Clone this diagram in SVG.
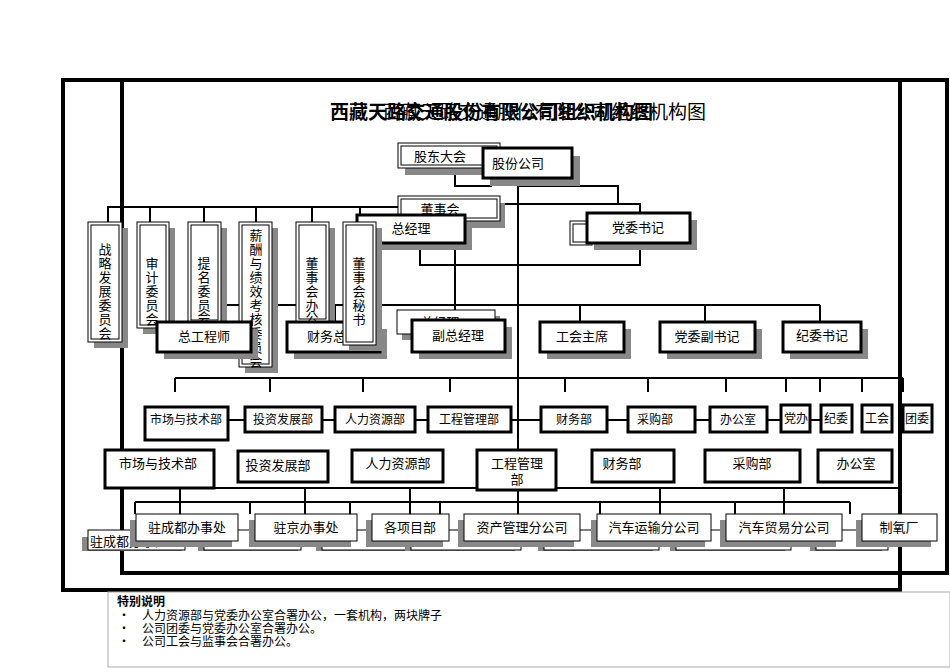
<svg xmlns="http://www.w3.org/2000/svg" width="950" height="672" viewBox="0 0 950 672">
<style>
text{font-family:"Noto Sans CJK SC","Liberation Sans",sans-serif;fill:#000}
.t{font-size:13px;text-anchor:middle}
.s{font-size:12px;text-anchor:middle}
.b{fill:#fff;stroke:#000;stroke-width:3}
.g{fill:#fff;stroke:#000;stroke-width:1}
.sh{fill:#888}
.c{fill:none;stroke:#000;stroke-width:2}
</style>
<rect width="950" height="672" fill="#fff"/>
<g id="frames" fill="none" stroke="#000">
<rect x="63" y="80" width="837" height="510" stroke-width="4"/>
<rect x="122" y="80" width="825" height="493" stroke-width="4"/>
</g>
<g id="title">
<text x="330" y="119" font-size="19" font-weight="bold">西藏天路交通股份有限公司组织机构图</text>
<text x="383" y="119" font-size="19">西藏天路交通股份有限公司组织机构图</text>
</g>
<g id="connectors" class="c">
<path d="M108 222V207H400M150 207V222M204 207V222M256 207V222M312 207V222M360 207V222"/>
<path d="M455 168V186H492M518 178V540M518 186H618V205M420 204H640V213M420 210V243V265H640V243"/>
<path d="M455 243V322M200 305H820M200 305V322M335 305V322M580 305V322M705 305V322M820 305V322"/>
<path d="M175 378H903M175 378V392M270 378V392M363 378V392M450 378V392M565 378V392M648 378V392M726 378V392M786 378V392M820 378V392M862 378V392M903 378V392"/>
<path d="M228 420H245M322 420H335M415 420H428M511 420H541M607 420H628M695 420H710M767 420H781M810 420H821"/>
<path d="M135 488H900M180 488V514M305 488V514M410 488V514M660 488V514M784 488V514M135 502H850M135 502V514M250 502V514M350 502V514M440 502V514M600 502V514M735 502V514M850 502V514"/>
</g>
<g id="ghosts">
<rect class="sh" x="405" y="150" width="100" height="25"/><rect class="g" x="398" y="143" width="102" height="25"/><rect class="g" x="401" y="146" width="96" height="19"/><text class="t" x="440" y="161">股东大会</text>
<rect class="sh" x="405" y="203" width="100" height="25"/><rect class="g" x="398" y="196" width="102" height="25"/><rect class="g" x="401" y="199" width="96" height="19"/><text class="t" x="440" y="214">董事会</text>
<rect class="g" x="570" y="221" width="22" height="24"/><rect class="g" x="573" y="224" width="16" height="18"/>
<rect class="sh" x="402" y="316" width="98" height="24"/><rect class="g" x="397" y="310" width="98" height="24"/><text class="t" x="440" y="327">总经理</text>
</g>
<g id="n-gudong"><rect class="sh" x="490" y="156" width="90" height="30"/><rect class="b" x="483" y="148" width="89" height="30"/><text class="t" x="518" y="168">股份公司</text></g>
<g id="n-zjl"><rect class="sh" x="364" y="222" width="108" height="28"/><rect class="b" x="357" y="215" width="108" height="28"/><text class="t" x="411" y="233">总经理</text></g>
<g id="n-dwsj"><rect class="sh" x="594" y="220" width="103" height="30"/><rect class="b" x="587" y="213" width="103" height="30"/><text class="t" x="638" y="232">党委书记</text></g>
<g id="committees">
<g id="n-c1"><rect class="sh" x="94" y="228" width="34" height="120"/><rect class="g" x="88" y="222" width="34" height="120"/><rect class="g" x="91" y="225" width="28" height="114"/><text class="t" x="105"><tspan x="105" y="254">战</tspan><tspan x="105" y="268">略</tspan><tspan x="105" y="282">发</tspan><tspan x="105" y="296">展</tspan><tspan x="105" y="310">委</tspan><tspan x="105" y="324">员</tspan><tspan x="105" y="338">会</tspan></text></g>
<g id="n-c2"><rect class="sh" x="143" y="228" width="32" height="106"/><rect class="g" x="137" y="222" width="32" height="106"/><rect class="g" x="140" y="225" width="26" height="100"/><text class="t" x="152"><tspan x="152" y="268">审</tspan><tspan x="152" y="282">计</tspan><tspan x="152" y="296">委</tspan><tspan x="152" y="310">员</tspan><tspan x="152" y="324">会</tspan></text></g>
<g id="n-c3"><rect class="sh" x="194" y="228" width="33" height="101"/><rect class="g" x="188" y="222" width="33" height="101"/><rect class="g" x="191" y="225" width="27" height="95"/><text class="t" x="204"><tspan x="204" y="268">提</tspan><tspan x="204" y="282">名</tspan><tspan x="204" y="296">委</tspan><tspan x="204" y="310">员</tspan><tspan x="204" y="322">会</tspan></text></g>
<g id="n-c4"><rect class="sh" x="245" y="228" width="33" height="145"/><rect class="g" x="239" y="222" width="33" height="145"/><rect class="g" x="242" y="225" width="27" height="139"/><text class="t" x="256"><tspan x="256" y="240">薪</tspan><tspan x="256" y="254">酬</tspan><tspan x="256" y="268">与</tspan><tspan x="256" y="282">绩</tspan><tspan x="256" y="296">效</tspan><tspan x="256" y="310">考</tspan><tspan x="256" y="324">核</tspan><tspan x="256" y="338">委</tspan><tspan x="256" y="352">员</tspan><tspan x="256" y="366">会</tspan></text></g>
<g id="n-c5"><rect class="sh" x="302" y="228" width="33" height="100"/><rect class="g" x="296" y="222" width="33" height="100"/><rect class="g" x="299" y="225" width="27" height="94"/><text class="t" x="312"><tspan x="312" y="268">董</tspan><tspan x="312" y="282">事</tspan><tspan x="312" y="296">会</tspan><tspan x="312" y="310">办</tspan><tspan x="312" y="322">公</tspan></text></g>
</g>
<g id="n-zgcs"><rect class="sh" x="164" y="329" width="94" height="30"/><rect class="b" x="157" y="322" width="94" height="30"/><text class="t" x="204" y="341">总工程师</text></g>
<g id="n-cwzj"><rect class="sh" x="294" y="329" width="93" height="30"/><rect class="b" x="287" y="322" width="93" height="30"/><text class="t" x="333" y="341">财务总监</text></g>
<g id="n-c6"><rect class="sh" x="349" y="228" width="33" height="123"/><rect class="g" x="343" y="222" width="33" height="123"/><rect class="g" x="346" y="225" width="27" height="117"/><text class="t" x="359"><tspan x="359" y="268">董</tspan><tspan x="359" y="282">事</tspan><tspan x="359" y="296">会</tspan><tspan x="359" y="310">秘</tspan><tspan x="359" y="324">书</tspan></text></g>
<g id="n-fzjl"><rect class="sh" x="419" y="327" width="93" height="32"/><rect class="b" x="412" y="320" width="93" height="32"/><text class="t" x="458" y="340">副总经理</text></g>
<g id="n-ghzx"><rect class="sh" x="547" y="329" width="84" height="30"/><rect class="b" x="540" y="322" width="84" height="30"/><text class="t" x="582" y="341">工会主席</text></g>
<g id="n-dwfsj"><rect class="sh" x="667" y="329" width="95" height="30"/><rect class="b" x="660" y="322" width="95" height="30"/><text class="t" x="707" y="341">党委副书记</text></g>
<g id="n-jwsj"><rect class="sh" x="790" y="329" width="78" height="30"/><rect class="b" x="783" y="322" width="78" height="30"/><text class="t" x="822" y="340">纪委书记</text></g>
<g id="row1" class="s">
<g id="r1a"><rect class="b" x="145" y="407" width="83" height="33"/><text x="186" y="424">市场与技术部</text></g>
<g id="r1b"><rect class="b" x="245" y="407" width="77" height="25"/><text x="283" y="424">投资发展部</text></g>
<g id="r1c"><rect class="b" x="335" y="407" width="80" height="25"/><text x="375" y="424">人力资源部</text></g>
<g id="r1d"><rect class="b" x="428" y="407" width="83" height="25"/><text x="469" y="424">工程管理部</text></g>
<g id="r1e"><rect class="b" x="541" y="407" width="66" height="25"/><text x="574" y="424">财务部</text></g>
<g id="r1f"><rect class="b" x="628" y="407" width="67" height="25"/><text x="655" y="424">采购部</text></g>
<g id="r1g"><rect class="b" x="710" y="407" width="57" height="25"/><text x="738" y="424">办公室</text></g>
<g id="r1h"><rect class="b" x="781" y="405" width="29" height="27"/><text x="796" y="423">党办</text></g>
<g id="r1i"><rect class="b" x="821" y="405" width="31" height="27"/><text x="836" y="423">纪委</text></g>
<g id="r1j"><rect class="b" x="862" y="405" width="30" height="27"/><text x="877" y="423">工会</text></g>
<g id="r1k"><rect class="b" x="903" y="405" width="29" height="27"/><text x="917" y="423">团委</text></g>
</g>
<g id="row2" class="t">
<g id="r2a"><rect class="b" x="105" y="450" width="109" height="38"/><text x="158" y="468">市场与技术部</text></g>
<g id="r2b"><rect class="b" x="238" y="451" width="90" height="31"/><text x="278" y="470">投资发展部</text></g>
<g id="r2c"><rect class="b" x="352" y="450" width="91" height="32"/><text x="398" y="468">人力资源部</text></g>
<g id="r2d"><rect class="b" x="477" y="450" width="79" height="40"/><text x="517" y="468">工程管理</text><text x="517" y="484">部</text></g>
<g id="r2e"><rect class="b" x="592" y="450" width="82" height="32"/><text x="622" y="468">财务部</text></g>
<g id="r2f"><rect class="b" x="705" y="450" width="95" height="32"/><text x="752" y="468">采购部</text></g>
<g id="r2g"><rect class="b" x="818" y="450" width="74" height="32"/><text x="856" y="468">办公室</text></g>
</g>
<g id="row3ghost">
<rect class="sh" x="82" y="537" width="100" height="14"/><rect class="g" x="88" y="530" width="97" height="20"/><text x="90" y="546" font-size="13">驻成都办事处</text>
<rect class="sh" x="198" y="537" width="100" height="14"/><rect class="g" x="204" y="530" width="97" height="20"/>
<rect class="sh" x="316" y="537" width="90" height="14"/><rect class="g" x="322" y="530" width="90" height="20"/>
<rect class="sh" x="405" y="537" width="110" height="14"/><rect class="g" x="411" y="530" width="110" height="20"/>
<rect class="sh" x="538" y="537" width="115" height="14"/><rect class="g" x="544" y="530" width="115" height="20"/>
<rect class="sh" x="670" y="537" width="115" height="14"/><rect class="g" x="676" y="530" width="115" height="20"/>
<rect class="sh" x="810" y="537" width="72" height="14"/><rect class="g" x="816" y="530" width="72" height="20"/>
</g>
<g id="row3" class="t">
<g id="r3a"><rect class="sh" x="130" y="520" width="102" height="27"/><rect class="g" x="136" y="514" width="102" height="27"/><text x="187" y="532">驻成都办事处</text></g>
<g id="r3b"><rect class="sh" x="249" y="520" width="102" height="27"/><rect class="g" x="255" y="514" width="102" height="27"/><text x="306" y="532">驻京办事处</text></g>
<g id="r3c"><rect class="sh" x="366" y="520" width="77" height="27"/><rect class="g" x="372" y="514" width="77" height="27"/><text x="410" y="532">各项目部</text></g>
<g id="r3d"><rect class="sh" x="458" y="520" width="116" height="27"/><rect class="g" x="464" y="514" width="116" height="27"/><text x="522" y="532">资产管理分公司</text></g>
<g id="r3e"><rect class="sh" x="591" y="520" width="114" height="27"/><rect class="g" x="597" y="514" width="114" height="27"/><text x="654" y="532">汽车运输分公司</text></g>
<g id="r3f"><rect class="sh" x="720" y="520" width="116" height="27"/><rect class="g" x="726" y="514" width="116" height="27"/><text x="784" y="532">汽车贸易分公司</text></g>
<g id="r3g"><rect class="sh" x="856" y="520" width="75" height="27"/><rect class="g" x="862" y="514" width="75" height="27"/><text x="899" y="532">制氧厂</text></g>
</g>
<g id="note">
<rect x="108" y="592" width="842" height="75" fill="none" stroke="#aaa" stroke-width="1"/>
<text x="117" y="606" font-size="12" font-weight="bold">特别说明</text>
<g font-size="12" font-family="Noto Sans CJK SC,Liberation Serif,serif">
<text x="118" y="620">•</text><text x="142" y="620">人力资源部与党委办公室合署办公，一套机构，两块牌子</text>
<text x="118" y="633">•</text><text x="142" y="633">公司团委与党委办公室合署办公。</text>
<text x="118" y="646">•</text><text x="142" y="646">公司工会与监事会合署办公。</text>
</g>
</g>
</svg>
